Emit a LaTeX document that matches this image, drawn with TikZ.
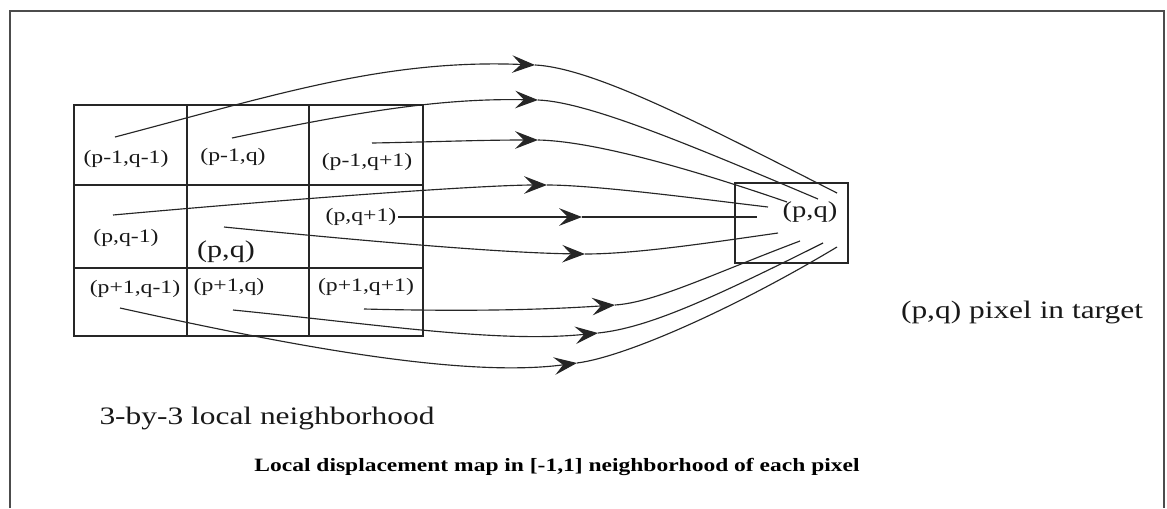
\documentclass[tikz,border=0pt]{standalone}
\usepackage{fontspec}
\setmainfont{Liberation Serif}
\usetikzlibrary{arrows.meta}
\newcommand{\sx}[1]{\scalebox{1.25}[1]{#1}}
\begin{document}
\begin{tikzpicture}[x=0.02cm,y=-0.02cm,
  frame/.style={draw=black!70, line width=1.1pt},
  gridline/.style={draw=black!85, line width=0.9pt},
  conn/.style={draw=black!85, line width=0.65pt},
  tip/.style={-{Stealth[length=13pt,width=10pt,inset=5pt]}},
  lab/.style={inner sep=1pt, font=\fontsize{10.8}{12}\selectfont, text=black!90},
  big/.style={inner sep=1pt, font=\fontsize{13.7}{15}\selectfont, text=black!90},
  note/.style={inner sep=1pt, font=\fontsize{14.3}{16}\selectfont, text=black!90},
  caption/.style={inner sep=1pt, font=\fontsize{10.7}{12}\selectfont\bfseries, text=black}]
\useasboundingbox (0,0) rectangle (1167,508);
\fill[white] (0,0) rectangle (1167,508);
% outer frame (open at the bottom)
\draw[frame] (10,508) -- (10,11) -- (1164,11) -- (1164,508);
% 3x3 grid
\draw[gridline] (74,105) rectangle (423,336);
\draw[gridline] (187,105) -- (187,336);
\draw[gridline] (309,105) -- (309,336);
\draw[gridline] (74,185) -- (423,185);
\draw[gridline] (74,268) -- (423,268);
% cell labels
\node[lab] (L11) at (126,159) {\sx{(p-1,q-1)}};
\node[lab] (L12) at (233,157) {\sx{(p-1,q)}};
\node[lab] (L13) at (367,162) {\sx{(p-1,q+1)}};
\node[lab] (L21) at (126,238) {\sx{(p,q-1)}};
\node[big] (L22) at (226,252) {\sx{(p,q)}};
\node[lab] (L23) at (361,217) {\sx{(p,q+1)}};
\node[lab] (L31) at (135,289) {\sx{(p+1,q-1)}};
\node[lab] (L32) at (229,287) {\sx{(p+1,q)}};
\node[lab] (L33) at (366,287) {\sx{(p+1,q+1)}};
% target pixel
\node[draw=black!85, line width=0.9pt, minimum width=2.26cm, minimum height=1.6cm, inner sep=0pt] (T) at (791.5,223) {};
\node[big, font=\fontsize{13}{15}\selectfont] (TL) at (810,212) {\sx{(p,q)}};
% texts
\node[note] (N1) at (1022,312) {\sx{(p,q) pixel in target}};
\node[note] (N2) at (267,418) {\sx{3-by-3 local neighborhood}};
\node[caption] (N3) at (557,467) {\sx{Local displacement map in [-1,1] neighborhood of each pixel}};
% connector points
\coordinate (s1) at (115,137); \coordinate (m1) at (535,65);  \coordinate (e1) at (837,193);
\coordinate (s2) at (232,138); \coordinate (m2) at (538,100); \coordinate (e2) at (818,199);
\coordinate (s3) at (372,143); \coordinate (m3) at (538,140); \coordinate (e3) at (787,202);
\coordinate (s4) at (113,215); \coordinate (m4) at (547,185); \coordinate (e4) at (768,207);
\coordinate (m5) at (582,217); \coordinate (e5) at (757,217);
\coordinate (s6) at (224,227); \coordinate (m6) at (585,254); \coordinate (e6) at (778,233);
\coordinate (s7) at (364,309); \coordinate (m7) at (615,305); \coordinate (e7) at (800,241);
\coordinate (s8) at (233,310); \coordinate (m8) at (598,333); \coordinate (e8) at (823,243);
\coordinate (s9) at (120,308); \coordinate (m9) at (577,363); \coordinate (e9) at (837,247);
% connectors
\draw[conn,tip] (s1) .. controls +(160,-42) and +(-150,-6) .. (m1);
\draw[conn] (m1) .. controls +(60,3) and +(-130,-66) .. (e1);
\draw[conn,tip] (s2) .. controls +(120,-25) and +(-100,-2) .. (m2);
\draw[conn] (m2) .. controls +(50,2) and +(-130,-55) .. (e2);
\draw[conn,tip] (s3) .. controls +(60,-1) and +(-60,0) .. (m3);
\draw[conn] (m3) .. controls +(50,1) and +(-110,-38) .. (e3);
\draw[conn,tip] (s4) .. controls +(200,-18) and +(-60,0) .. (m4);
\draw[conn] (m4) .. controls +(50,0) and +(-60,-7) .. (e4);
\draw[conn,tip] (L23.east) -- (m5);
\draw[conn] (m5) -- (e5);
\draw[conn,tip] (s6) .. controls +(150,15) and +(-80,-1) .. (m6);
\draw[conn] (m6) .. controls +(50,0) and +(-70,10) .. (e6);
\draw[conn,tip] (s7) .. controls +(80,2) and +(-90,6) .. (m7);
\draw[conn] (m7) .. controls +(40,-2.7) and +(-90,34) .. (e7);
\draw[conn,tip] (s8) .. controls +(150,15) and +(-100,10) .. (m8);
\draw[conn] (m8) .. controls +(50,-5) and +(-110,55) .. (e8);
\draw[conn,tip] (s9) .. controls +(150,33) and +(-120,16) .. (m9);
\draw[conn] (m9) .. controls +(50,-6.5) and +(-100,60) .. (e9);
\end{tikzpicture}
\end{document}
